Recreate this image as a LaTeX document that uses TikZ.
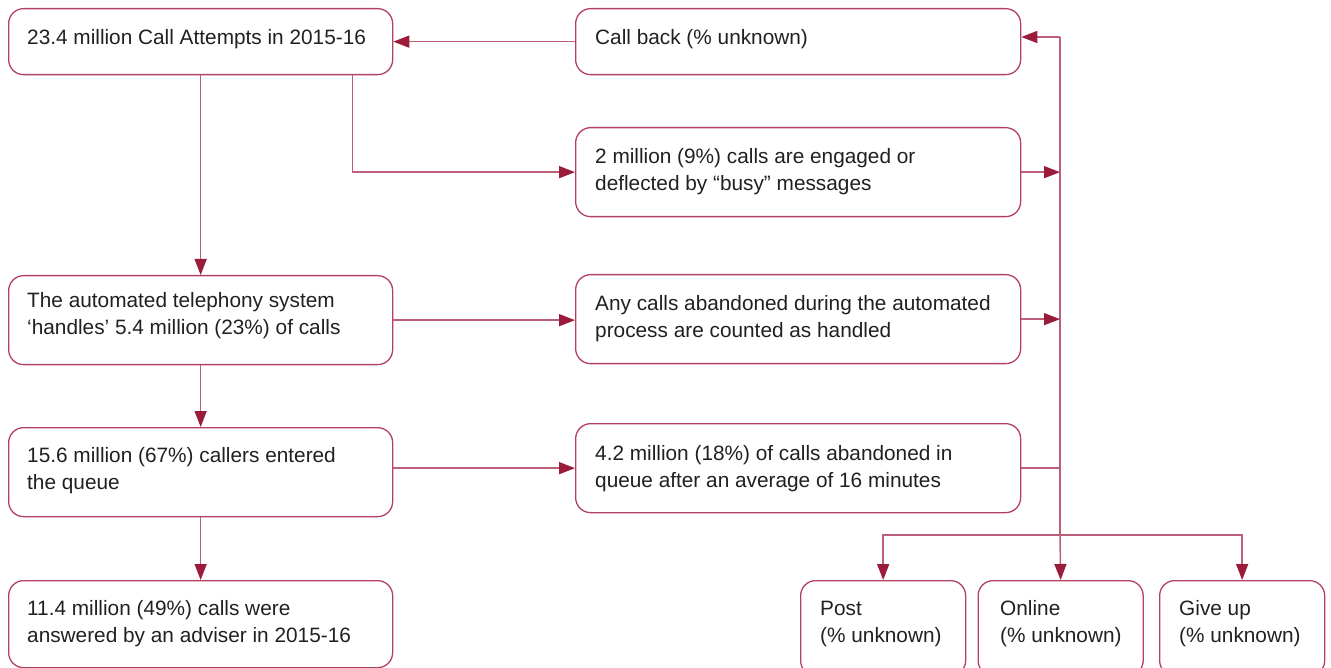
\documentclass[tikz,border=0pt]{standalone}
\usepackage{fontspec}
\setmainfont{Liberation Sans}
\usetikzlibrary{arrows.meta}
\definecolor{lc}{RGB}{180,64,96}
\definecolor{cc}{RGB}{190,95,122}
\definecolor{ac}{RGB}{155,27,58}
\definecolor{tc}{RGB}{35,31,32}
\begin{document}
\begin{tikzpicture}[x=1pt,y=-1pt,
 box/.style={draw=lc, line width=1.3pt, rounded corners=15pt, anchor=north west, inner sep=0pt},
 txt/.style={anchor=base west, inner sep=0pt, text=tc, font=\fontsize{20.8}{27}\selectfont},
 conn/.style={draw=cc, line width=1.5pt},
 arr/.style={conn, -{Triangle[length=16pt,width=12pt,color=ac]}}]
\useasboundingbox (0,0) rectangle (1331,668);
% boxes
\node[box, minimum width=384pt, minimum height=66pt] (a) at (8,8) {};
\node[box, minimum width=384pt, minimum height=89pt] (b) at (8,275) {};
\node[box, minimum width=384pt, minimum height=89pt] (c) at (8,427) {};
\node[box, minimum width=384pt, minimum height=87pt] (d) at (8,580) {};
\node[box, minimum width=445pt, minimum height=66pt] (cb) at (575,8) {};
\node[box, minimum width=445pt, minimum height=89pt] (r2) at (575,127) {};
\node[box, minimum width=445pt, minimum height=89pt] (r3) at (575,274) {};
\node[box, minimum width=445pt, minimum height=89pt] (r4) at (575,423) {};
\node[box, minimum width=165pt, minimum height=95pt] (post) at (800,580) {};
\node[box, minimum width=165pt, minimum height=95pt] (online) at (977.5,580) {};
\node[box, minimum width=165pt, minimum height=95pt] (give) at (1159,580) {};
% texts
\node[txt] (ta) at (27,45) {23.4 million Call Attempts in 2015-16};
\node[txt] (tb) at (27,308) {\parbox[t]{370pt}{The automated telephony system\\‘handles’ 5.4 million (23\%) of calls}};
\node[txt] (tc) at (27,462) {\parbox[t]{370pt}{15.6 million (67\%) callers entered\\the queue}};
\node[txt] (td) at (27,615) {\parbox[t]{370pt}{11.4 million (49\%) calls were\\answered by an adviser in 2015-16}};
\node[txt] (tcb) at (595,45) {Call back (\% unknown)};
\node[txt] (tr2) at (595,164) {\parbox[t]{420pt}{2 million (9\%) calls are engaged or\\deflected by “busy” messages}};
\node[txt] (tr3) at (595,311) {\parbox[t]{420pt}{Any calls abandoned during the automated\\process are counted as handled}};
\node[txt] (tr4) at (595,460) {\parbox[t]{420pt}{4.2 million (18\%) of calls abandoned in\\queue after an average of 16 minutes}};
\node[txt] (tpost) at (820,615) {\parbox[t]{150pt}{Post\\(\% unknown)}};
\node[txt] (tonline) at (1000,615) {\parbox[t]{150pt}{Online\\(\% unknown)}};
\node[txt] (tgive) at (1179,615) {\parbox[t]{150pt}{Give up\\(\% unknown)}};
% connectors
\coordinate (bt) at (1060,37);
\coordinate (hub) at (1060,535);
\draw[conn] (bt) -- (hub);
\draw[arr] (cb.west) -- (a.east);
\draw[arr] (a.south) -- (b.north);
\draw[arr] ([xshift=152pt]a.south) |- (r2.west);
\draw[arr] (b.east) -- (b.east -| r3.west);
\draw[arr] (b.south) -- (c.north);
\draw[arr] (c.east |- r4.west) -- (r4.west);
\draw[arr] (c.south) -- (d.north);
\draw[arr] (r2.east) -- (r2.east -| bt);
\draw[arr] (r3.east) -- (r3.east -| bt);
\draw[conn] (r4.east) -- (r4.east -| bt);
\draw[arr] (bt) -- (bt -| cb.east);
\draw[arr] (hub) -- (online.north);
\draw[arr] (hub) -| (post.north);
\draw[arr] (hub) -| (give.north);
\end{tikzpicture}
\end{document}
